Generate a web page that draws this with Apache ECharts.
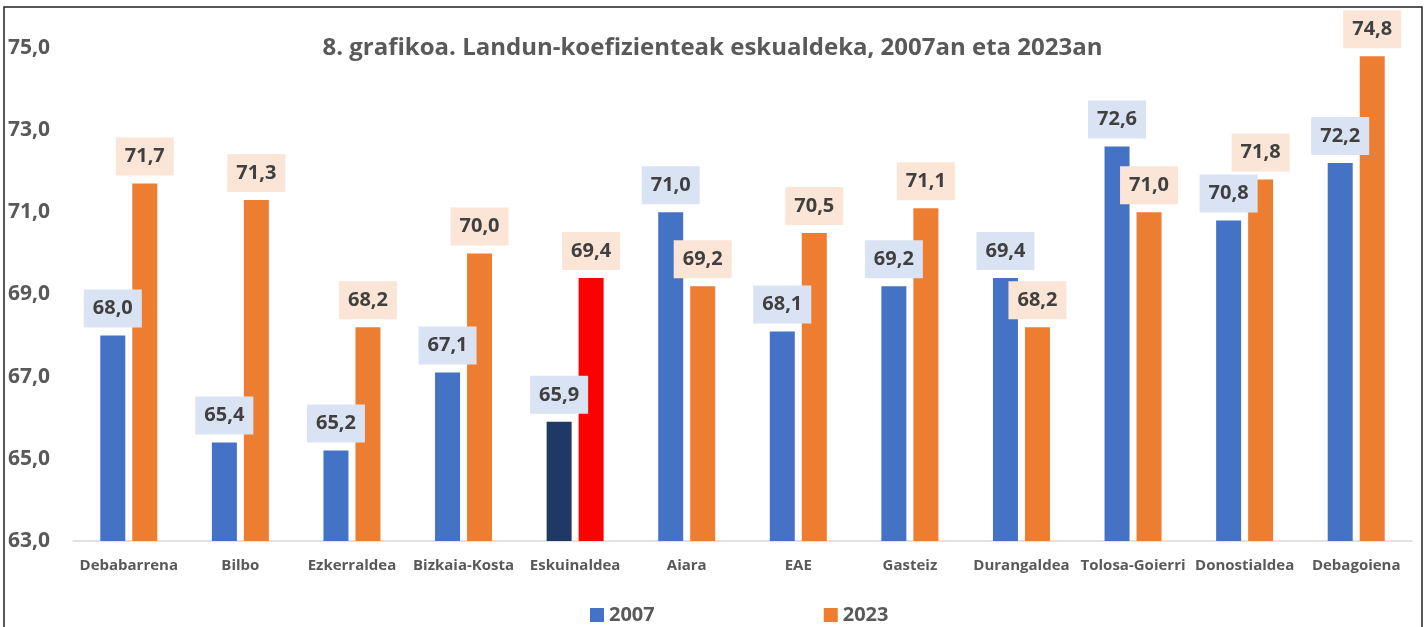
<!DOCTYPE html>
<html lang="eu">
<head>
    <meta charset="UTF-8">
    <title>Landun-koefizienteak eskualdeka</title>
    <script src="https://cdn.jsdelivr.net/npm/echarts@6/dist/echarts.min.js"></script>
    <style>
        html, body { margin: 0; padding: 0; background: #fff; }
        #chart { width: 1425px; height: 627px; }
    </style>
</head>
<body>
<div id="chart"></div>
<script type="text/javascript">
    var categories = ['Debabarrena', 'Bilbo', 'Ezkerraldea', 'Bizkaia-Kosta', 'Eskuinaldea', 'Aiara',
        'EAE', 'Gasteiz', 'Durangaldea', 'Tolosa-Goierri', 'Donostialdea', 'Debagoiena'];
    var values2007 = [68.0, 65.4, 65.2, 67.1, 65.9, 71.0, 68.1, 69.2, 69.4, 72.6, 70.8, 72.2];
    var values2023 = [71.7, 71.3, 68.2, 70.0, 69.4, 69.2, 70.5, 71.1, 68.2, 71.0, 71.8, 74.8];
    // Eskuinaldea nabarmenduta
    var highlight = 'Eskuinaldea';

    var fontFam = '"Open Sans", Lato, sans-serif';

    function comma(v) {
        return v.toFixed(1).replace('.', ',');
    }

    function buildData(vals, hiColor) {
        return vals.map(function (v, i) {
            if (categories[i] === highlight) {
                return {value: v, itemStyle: {color: hiColor}};
            }
            return v;
        });
    }

    function labelStyle(bg) {
        return {
            show: true,
            position: 'top',
            distance: 8,
            formatter: function (p) { return comma(p.value); },
            backgroundColor: bg,
            padding: [8, 9, 8, 9],
            color: '#404040',
            fontFamily: fontFam,
            fontWeight: 'bold',
            fontSize: 20,
            lineHeight: 22
        };
    }

    var myChart = echarts.init(document.getElementById('chart'));
    var option = {
        animation: false,
        title: {
            text: '8. grafikoa. Landun-koefizienteak eskualdeka, 2007an eta 2023an',
            left: 'center',
            top: 31,
            textStyle: {
                color: '#595959',
                fontFamily: fontFam,
                fontWeight: 'bold',
                fontSize: 24
            }
        },
        graphic: [{
            type: 'rect',
            shape: {x: 4, y: 7, width: 1418, height: 640},
            style: {fill: 'none', stroke: '#222', lineWidth: 1.5},
            silent: true
        }],
        legend: {
            top: 600,
            left: 585,
            itemWidth: 14,
            itemHeight: 14,
            itemGap: 169,
            icon: 'rect',
            textStyle: {
                color: '#595959',
                fontFamily: fontFam,
                fontWeight: 'bold',
                fontSize: 20
            },
            data: ['2007', '2023']
        },
        grid: {
            left: 73,
            right: 13,
            top: 48,
            bottom: 86
        },
        xAxis: {
            type: 'category',
            data: categories,
            axisTick: {show: false},
            axisLine: {lineStyle: {color: '#d9d9d9', width: 1.5}},
            axisLabel: {
                margin: 17,
                interval: 0,
                color: '#595959',
                fontFamily: fontFam,
                fontWeight: 'bold',
                fontSize: 15
            }
        },
        yAxis: {
            type: 'value',
            min: 63,
            max: 75,
            interval: 2,
            splitLine: {show: false},
            axisLine: {show: false},
            axisTick: {show: false},
            axisLabel: {
                align: 'left',
                margin: 65,
                color: '#595959',
                fontFamily: fontFam,
                fontWeight: 'bold',
                fontSize: 21,
                formatter: function (v) { return comma(v); }
            }
        },
        series: [
            {
                name: '2007',
                type: 'bar',
                barWidth: 25,
                barGap: '28%',
                itemStyle: {color: '#4472C4'},
                data: buildData(values2007, '#203864'),
                label: labelStyle('#DAE3F3')
            },
            {
                name: '2023',
                type: 'bar',
                barWidth: 25,
                itemStyle: {color: '#ED7D31'},
                data: buildData(values2023, '#FF0000'),
                label: labelStyle('#FBE5D6')
            }
        ]
    };
    myChart.setOption(option);
</script>
</body>
</html>
